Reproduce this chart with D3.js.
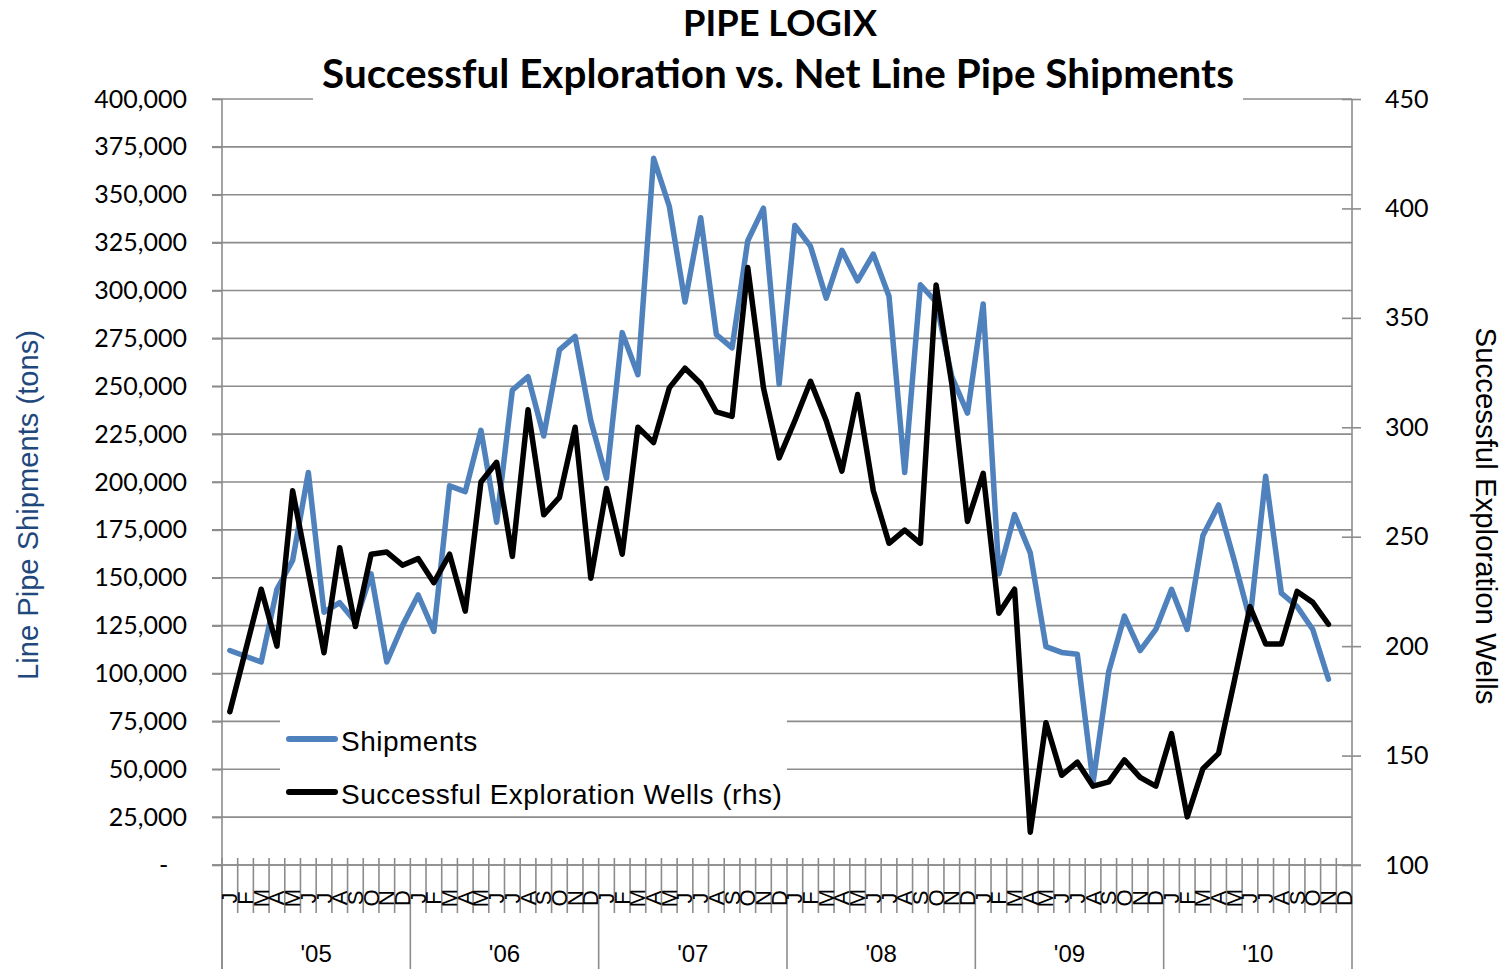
<!DOCTYPE html>
<html>
<head>
<meta charset="utf-8">
<script src="https://cdn.jsdelivr.net/npm/d3@7"></script>
<style>
  body { margin: 0; background: #fff; }
  svg { display: block; }
</style>
</head>
<body>
<script>
var w = 1504;
var h = 969;

var years = ["'05", "'06", "'07", "'08", "'09", "'10"];
var monthLetters = ["J","F","M","A","M","J","J","A","S","O","N","D"];

// net line pipe shipments, tons (Jan '05 .. Nov '10)
var shipments = [
  112000, 109000, 106000, 144000, 159000, 205000, 132000, 137000, 127000, 152000, 106000, 125000,
  141000, 122000, 198000, 195000, 227000, 179000, 248000, 255000, 224000, 269000, 276000, 232000,
  202000, 278000, 256000, 369000, 344000, 294000, 338000, 277000, 270000, 326000, 343000, 251000,
  334000, 323000, 296000, 321000, 305000, 319000, 297000, 205000, 303000, 294000, 255000, 236000,
  293000, 152000, 183000, 163000, 114000, 111000, 110000, 43000, 101000, 130000, 112000, 123000,
  144000, 123000, 172000, 188000, 159000, 128000, 203000, 142000, 135000, 123000, 97000, null
];
// successful exploration wells (rhs)
var wells = [
  170, 198, 226, 200, 271, 234, 197, 245, 209, 242, 243, 237,
  240, 229, 242, 216, 275, 284, 241, 308, 260, 268, 300, 231,
  272, 242, 300, 293, 318, 327, 320, 307, 305, 373, 318, 286,
  303, 321, 303, 280, 315, 271, 247, 253, 247, 365, 320, 257,
  279, 215, 226, 115, 165, 141, 147, 136, 138, 148, 140, 136,
  160, 122, 144, 151, 184, 218, 201, 201, 225, 220, 210, null
];
var leftTicks = [0,25000,50000,75000,100000,125000,150000,175000,200000,225000,250000,275000,300000,325000,350000,375000,400000];
var rightTicks = [100,150,200,250,300,350,400,450];

var plotLeft = 222, plotRight = 1352, plotTop = 99, plotBottom = 865;
var gridCol = "#8c8c8c";

var svg = d3.select("body").append("svg").attr("width", w).attr("height", h);

var months = d3.range(shipments.length);
var x = d3.scaleBand().domain(months).range([plotLeft, plotRight]);
var yL = d3.scaleLinear().domain([0, 400000]).range([plotBottom, plotTop]);
var yR = d3.scaleLinear().domain([100, 450]).range([plotBottom, plotTop]);
var cx = function(i){ return x(i) + x.bandwidth()/2; };

// fit a text element to a target width
function fit(sel, target){
  var len = sel.node().getComputedTextLength();
  var fs = parseFloat(sel.attr("font-size"));
  sel.attr("font-size", fs * target / len);
}

/**** gridlines ****/
svg.append("g").selectAll("line").data(leftTicks).enter().append("line")
  .attr("x1", plotLeft - 10).attr("x2", plotRight)
  .attr("y1", function(d){ return yL(d); }).attr("y2", function(d){ return yL(d); })
  .attr("stroke", gridCol).attr("stroke-width", 1.6);

/**** left axis ****/
var gl = svg.append("g").attr("transform", "translate(" + plotLeft + ",0)")
  .call(d3.axisLeft(yL).tickValues(leftTicks).tickSize(10).tickPadding(25)
    .tickFormat(function(d){ return d === 0 ? "-\u2003" : d3.format(",")(d); }));
gl.select(".domain").remove();
gl.selectAll(".tick line").attr("stroke", gridCol).attr("stroke-width", 1.6);
gl.selectAll(".tick text").attr("font-family", "Lato, 'Open Sans', sans-serif")
  .attr("font-size", 25).attr("fill", "#000");
svg.append("line").attr("x1", plotLeft).attr("x2", plotLeft).attr("y1", plotTop).attr("y2", h)
  .attr("stroke", gridCol).attr("stroke-width", 1.6);

/**** right axis ****/
var gr = svg.append("g").attr("transform", "translate(" + plotRight + ",0)")
  .call(d3.axisRight(yR).tickValues(rightTicks).tickSize(9).tickPadding(24));
gr.select(".domain").remove();
gr.selectAll(".tick line").attr("x1", -10).attr("stroke", gridCol).attr("stroke-width", 1.6);
gr.selectAll(".tick text").attr("font-family", "Lato, 'Open Sans', sans-serif")
  .attr("font-size", 25).attr("fill", "#000");
svg.append("line").attr("x1", plotRight).attr("x2", plotRight).attr("y1", plotTop).attr("y2", h)
  .attr("stroke", gridCol).attr("stroke-width", 1.6);

/**** x axis: months + years (the axis runs to Dec '10) ****/
var axisMonths = d3.range(72);
var xm = d3.scaleBand().domain(axisMonths).range([plotLeft, plotRight]);
svg.append("g").selectAll("line").data(axisMonths.filter(function(i){ return i % 12 !== 0; })).enter().append("line")
  .attr("x1", function(i){ return xm(i); }).attr("x2", function(i){ return xm(i); })
  .attr("y1", plotBottom - 7).attr("y2", plotBottom + 48)
  .attr("stroke", gridCol).attr("stroke-width", 1.6);
svg.append("g").selectAll("line").data(d3.range(0, 72, 12)).enter().append("line")
  .attr("x1", function(i){ return xm(i); }).attr("x2", function(i){ return xm(i); })
  .attr("y1", plotBottom - 7).attr("y2", h)
  .attr("stroke", gridCol).attr("stroke-width", 1.6);

svg.append("g").selectAll("text").data(axisMonths).enter().append("text")
  .attr("transform", function(i){ return "translate(" + (xm(i) + xm.bandwidth()/2) + "," + (plotBottom + 33) + ") rotate(-90)"; })
  .attr("text-anchor", "middle").attr("dominant-baseline", "central")
  .attr("font-family", "'Liberation Sans', Arial, sans-serif").attr("font-size", 22)
  .text(function(i){ return monthLetters[i % 12]; });

svg.append("g").selectAll("text").data(years).enter().append("text")
  .attr("x", function(d, i){ return (xm(i*12) + xm(i*12 + 11) + xm.bandwidth())/2; })
  .attr("y", 962)
  .attr("text-anchor", "middle")
  .attr("font-family", "'Liberation Sans', Arial, sans-serif").attr("font-size", 24)
  .text(function(d){ return d; });

svg.append("line").attr("x1", plotLeft - 10).attr("x2", plotRight + 9).attr("y1", plotBottom).attr("y2", plotBottom)
  .attr("stroke", gridCol).attr("stroke-width", 1.6);

/**** series ****/
var lineShip = d3.line().defined(function(d){ return d !== null; })
  .x(function(d, i){ return cx(i); }).y(function(d){ return yL(d); });
var lineWells = d3.line().defined(function(d){ return d !== null; })
  .x(function(d, i){ return cx(i); }).y(function(d){ return yR(d); });

svg.append("path").datum(shipments).attr("d", lineShip)
  .attr("fill", "none").attr("stroke", "#4f81bd").attr("stroke-width", 5.5)
  .attr("stroke-linejoin", "round").attr("stroke-linecap", "round");
svg.append("path").datum(wells).attr("d", lineWells)
  .attr("fill", "none").attr("stroke", "#000").attr("stroke-width", 5.5)
  .attr("stroke-linejoin", "round").attr("stroke-linecap", "round");

/**** legend ****/
var leg = svg.append("g");
leg.append("rect").attr("x", 280).attr("y", 716).attr("width", 507).attr("height", 98).attr("fill", "#fff");
var legItems = [{name: "Shipments", col: "#4f81bd", y: 739}, {name: "Successful Exploration Wells (rhs)", col: "#000", y: 792}];
leg.selectAll("line").data(legItems).enter().append("line")
  .attr("x1", 289).attr("x2", 335)
  .attr("y1", function(d){ return d.y; }).attr("y2", function(d){ return d.y; })
  .attr("stroke", function(d){ return d.col; }).attr("stroke-width", 6).attr("stroke-linecap", "round");
leg.selectAll("text").data(legItems).enter().append("text")
  .attr("x", 341).attr("y", function(d){ return d.y + 12; })
  .attr("font-family", "'Liberation Sans', Arial, sans-serif").attr("font-size", 28)
  .attr("letter-spacing", 0.5)
  .text(function(d){ return d.name; });

/**** titles ****/
svg.append("rect").attr("x", 313).attr("y", 52).attr("width", 930).attr("height", 58).attr("fill", "#fff");
var t1 = svg.append("text").attr("x", 780).attr("y", 36).attr("text-anchor", "middle")
  .attr("font-family", "Lato, sans-serif").attr("font-weight", "bold").attr("font-size", 32)
  .text("PIPE LOGIX");
fit(t1, 194);
var t2 = svg.append("text").attr("x", 778).attr("y", 88).attr("text-anchor", "middle")
  .attr("font-family", "Lato, sans-serif").attr("font-weight", "bold").attr("font-size", 32)
  .text("Successful Exploration vs. Net Line Pipe Shipments");
fit(t2, 912);

var ta = svg.append("text").attr("transform", "translate(38,505) rotate(-90)")
  .attr("text-anchor", "middle").attr("fill", "#1f497d")
  .attr("font-family", "'Liberation Sans', Arial, sans-serif").attr("font-size", 28)
  .text("Line Pipe Shipments (tons)");
fit(ta, 350);
var tb = svg.append("text").attr("transform", "translate(1476,516) rotate(90)")
  .attr("text-anchor", "middle").attr("fill", "#000")
  .attr("font-family", "'Liberation Sans', Arial, sans-serif").attr("font-size", 28)
  .text("Successful Exploration Wells");
fit(tb, 377);
</script>
</body>
</html>
